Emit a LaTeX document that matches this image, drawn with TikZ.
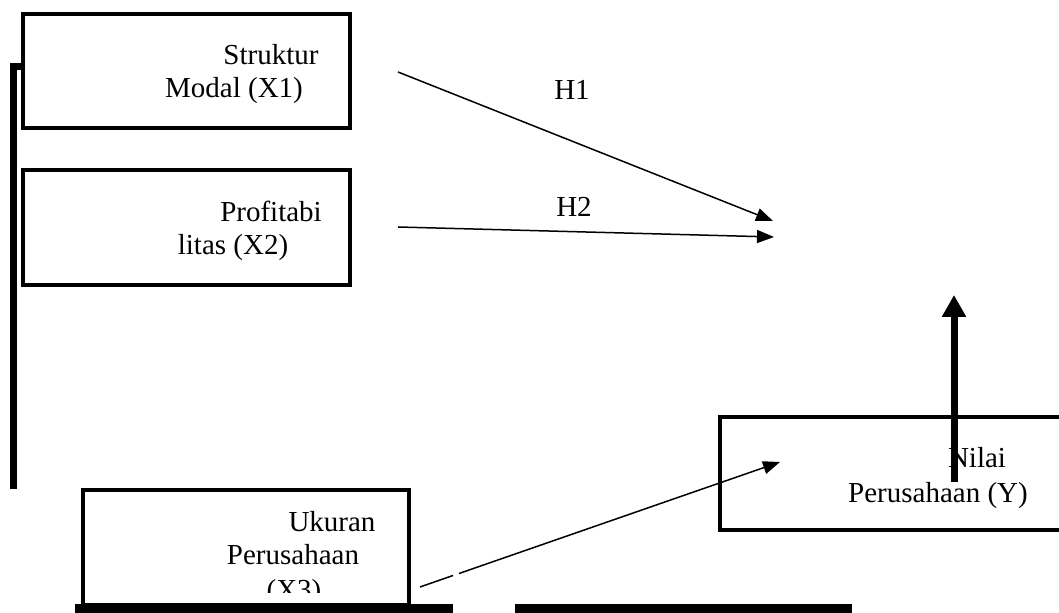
\documentclass[tikz,border=0pt]{standalone}
\usepackage{fontspec}
\setmainfont{Liberation Serif}
\usetikzlibrary{positioning,arrows.meta,calc}

\begin{document}
\begin{tikzpicture}[x=0.5pt, y=-0.5pt,
    var/.style={draw, line width=2pt, minimum width=163.5pt, minimum height=57pt,
                inner sep=0pt, outer sep=0pt},
    lbl/.style={anchor=base, inner sep=0pt, font=\fontsize{14.5}{17}\selectfont},
    hyp/.style={line width=0.75pt, -{Triangle[length=8.5pt, width=6.5pt]}},
    sidebar/.style={line width=3.5pt},
    floorline/.style={line width=4.5pt}]
  \useasboundingbox (0,0) rectangle (1059,613);
  \clip (0,0) rectangle (1059,613);
  % variable boxes
  \node[var] (x1) at (186.5,71) {};
  \node[var, minimum height=57.5pt] (x2) at (186.5,227.5) {};
  \node[var, minimum width=163pt, minimum height=57.5pt] (x3) at (246,547.5) {};
  \node[var, minimum width=172.5pt, minimum height=56.5pt] (y) at (892.5,473.5) {};
  % box texts
  \node[lbl] (x1a) at (271,65) {Struktur};
  \node[lbl] (x1b) at (234,98) {Modal (X1)};
  \node[lbl] (x2a) at (271,222) {Profitabi};
  \node[lbl] (x2b) at (233,255) {litas (X2)};
  \node[lbl] (x3a) at (332,532) {Ukuran};
  \node[lbl] (x3b) at (293,565) {Perusahaan};
  \begin{scope}
    \clip (85,492) rectangle (407,593);
    \node[lbl] (x3c) at (294,600) {(X3)};
  \end{scope}
  \node[lbl] (ya) at (977,468) {Nilai};
  \node[lbl] (yb) at (938,503) {Perusahaan (Y)};
  % left bar and floor lines
  \coordinate (bartop) at (13,67);
  \coordinate (barbot) at (13,489);
  \draw[sidebar] (x1.west |- bartop) -- (bartop) -- (barbot);
  \coordinate (f1s) at (75,608.5);
  \coordinate (f1e) at (453,608.5);
  \coordinate (f2s) at (515,609);
  \coordinate (f2e) at (852,609);
  \draw[floorline] (f1s) -- (f1e);
  \draw[floorline] (f2s) -- (f2e);
  % hypotheses
  \coordinate (h1s) at (398,72);
  \coordinate (h1e) at (773,221);
  \coordinate (h2s) at (398,227);
  \coordinate (h2e) at (774,237);
  \draw[hyp] (h1s) -- (h1e);
  \draw[hyp] (h2s) -- (h2e);
  \node[lbl] (h1) at (572,100) {H1};
  \node[lbl] (h2) at (574,217) {H2};
  % X3 arrow, broken near its start
  \coordinate (h3s) at (420,587);
  \coordinate (h3g1) at (453,575.5);
  \coordinate (h3g2) at (459,573.5);
  \coordinate (h3e) at (780,462);
  \draw[line width=0.75pt] (h3s) -- (h3g1);
  \draw[hyp] (h3g2) -- (h3e);
  % upward arrow from Y
  \coordinate (ys) at (954,482);
  \coordinate (ye) at (954,295);
  \draw[line width=3.5pt, -{Triangle[length=11pt, width=11.5pt]}] (ys) -- (ye);
\end{tikzpicture}
\end{document}
